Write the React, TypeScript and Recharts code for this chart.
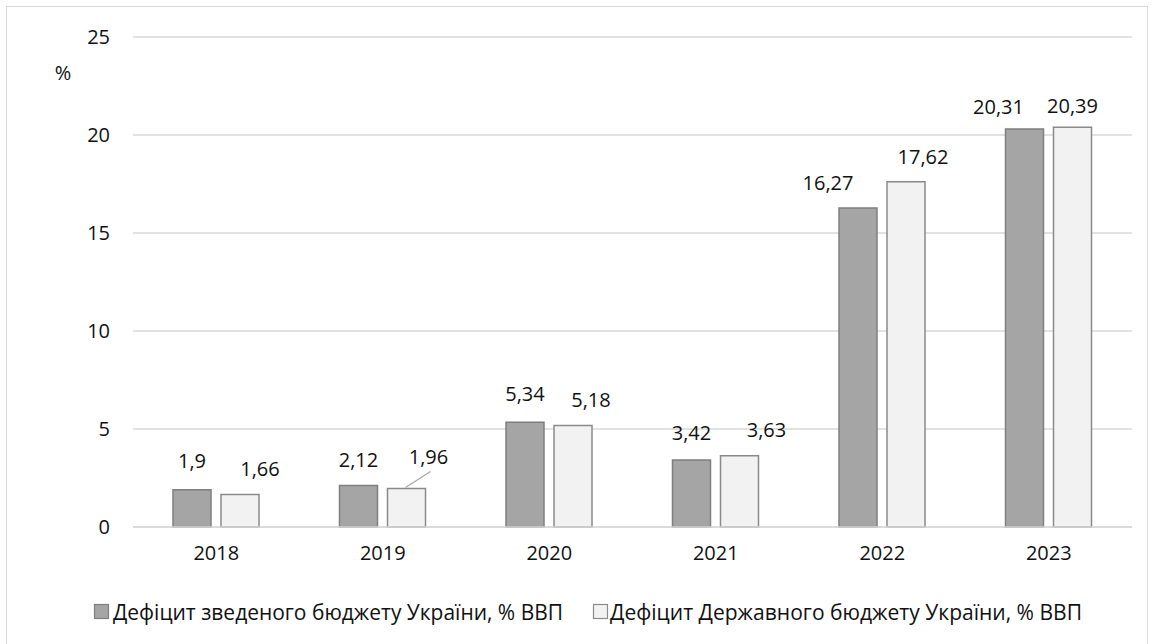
import React from 'react';
import { BarChart, Bar, XAxis, YAxis, CartesianGrid, Legend, Label } from 'recharts';

const years = ['2018', '2019', '2020', '2021', '2022', '2023'];
const consolidatedDeficit = [1.9, 2.12, 5.34, 3.42, 16.27, 20.31];
const stateDeficit = [1.66, 1.96, 5.18, 3.63, 17.62, 20.39];
const yTicks = [0, 5, 10, 15, 20, 25];
const seriesNames = [
  'Дефіцит зведеного бюджету України, % ВВП',
  'Дефіцит Державного бюджету України, % ВВП',
];
const unitLabel = '%';

const data = years.map((y, i) => ({
  year: y,
  consolidated: consolidatedDeficit[i],
  state: stateDeficit[i],
}));

const FONT = '"Open Sans", "Noto Sans", sans-serif';
const TEXT = '#111111';
const DARK_FILL = '#a5a5a5';
const DARK_STROKE = '#7f7f7f';
const LIGHT_FILL = '#f2f2f2';
const LIGHT_STROKE = '#8a8a8a';
const GRID = '#d9d9d9';
const FS = 20;

// label nudges (styling only)
const darkDx = [0, 0, 0, 0, -30, -26];
const darkUp = [29, 26, 29, 27, 26, 22];
const lightDx = [20, 22, 18, 27, 17, 0];
const lightUp = [26, 32, 26, 26, 25, 22];

const fmt = (v: number) => String(v).replace('.', ',');

const makeLabel = (kind: 'dark' | 'light') => (props: any) => {
  const { x, y, width, value, index } = props;
  const dx = kind === 'dark' ? darkDx[index] : lightDx[index];
  const up = kind === 'dark' ? darkUp[index] : lightUp[index];
  const cx = x + width / 2 + dx;
  const cy = y - up;
  const leader = kind === 'light' && index === 1;
  return (
    <g>
      {leader && (
        <line x1={x + width / 2 - 1} y1={y - 1} x2={cx + 2} y2={cy + 15} stroke="#a6a6a6" strokeWidth={1.2} />
      )}
      <text
        x={cx}
        y={cy}
        textAnchor="middle"
        dominantBaseline="central"
        fontFamily={FONT}
        fontSize={FS}
        fill={TEXT}
      >
        {fmt(value)}
      </text>
    </g>
  );
};

const LegendContent = () => (
  <svg width={1152} height={30} style={{ display: 'block' }}>
    <rect x={94.5} y={7.5} width={14} height={14} fill={DARK_FILL} stroke={DARK_STROKE} strokeWidth={1.2} />
    <text x={113} y={15} dominantBaseline="central" fontFamily={FONT} fontSize={21} fill={TEXT}
      textLength={450} lengthAdjust="spacingAndGlyphs">{seriesNames[0]}</text>
    <rect x={593.5} y={7.5} width={14} height={14} fill={LIGHT_FILL} stroke={LIGHT_STROKE} strokeWidth={1.2} />
    <text x={610} y={15} dominantBaseline="central" fontFamily={FONT} fontSize={21} fill={TEXT}
      textLength={472} lengthAdjust="spacingAndGlyphs">{seriesNames[1]}</text>
  </svg>
);

const PercentLabel = () => (
  <text x={63} y={72} textAnchor="middle" dominantBaseline="central" fontFamily={FONT} fontSize={FS} fill={TEXT}>
    {unitLabel}
  </text>
);

export default function App() {
  return (
    <div style={{ position: 'absolute', left: 0, top: 0, width: 1152, height: 644, overflow: 'hidden', background: '#fff' }}>
      <div style={{ position: 'absolute', left: 6, top: 6, width: 1140, height: 700, border: `1.5px solid ${GRID}` }} />
      <div style={{ position: 'absolute', left: 0, top: 0 }}>
        <BarChart
          width={1152}
          height={644}
          data={data}
          margin={{ top: 37, right: 20, left: 0, bottom: 47 }}
          barSize={38}
          barGap={10}
        >
          <CartesianGrid vertical={false} stroke={GRID} strokeWidth={1.5} />
          <XAxis
            dataKey="year"
            axisLine={{ stroke: GRID, strokeWidth: 1.5 }}
            tickLine={false}
            tickMargin={13}
            height={40}
            tick={{ fontFamily: FONT, fontSize: FS, fill: TEXT }}
          />
          <YAxis
            domain={[0, 25]}
            ticks={yTicks}
            width={133}
            axisLine={false}
            tickLine={false}
            tickMargin={17}
            tick={{ fontFamily: FONT, fontSize: FS, fill: TEXT }}
          >
            <Label content={<PercentLabel />} />
          </YAxis>
          <Legend
            verticalAlign="bottom"
            content={<LegendContent />}
            wrapperStyle={{ left: 0, top: 597, width: 1152, height: 30 }}
          />
          <Bar
            dataKey="consolidated"
            name={seriesNames[0]}
            fill={DARK_FILL}
            stroke={DARK_STROKE}
            strokeWidth={1.5}
            isAnimationActive={false}
            label={makeLabel('dark')}
          />
          <Bar
            dataKey="state"
            name={seriesNames[1]}
            fill={LIGHT_FILL}
            stroke={LIGHT_STROKE}
            strokeWidth={1.5}
            isAnimationActive={false}
            label={makeLabel('light')}
          />
        </BarChart>
      </div>
    </div>
  );
}
